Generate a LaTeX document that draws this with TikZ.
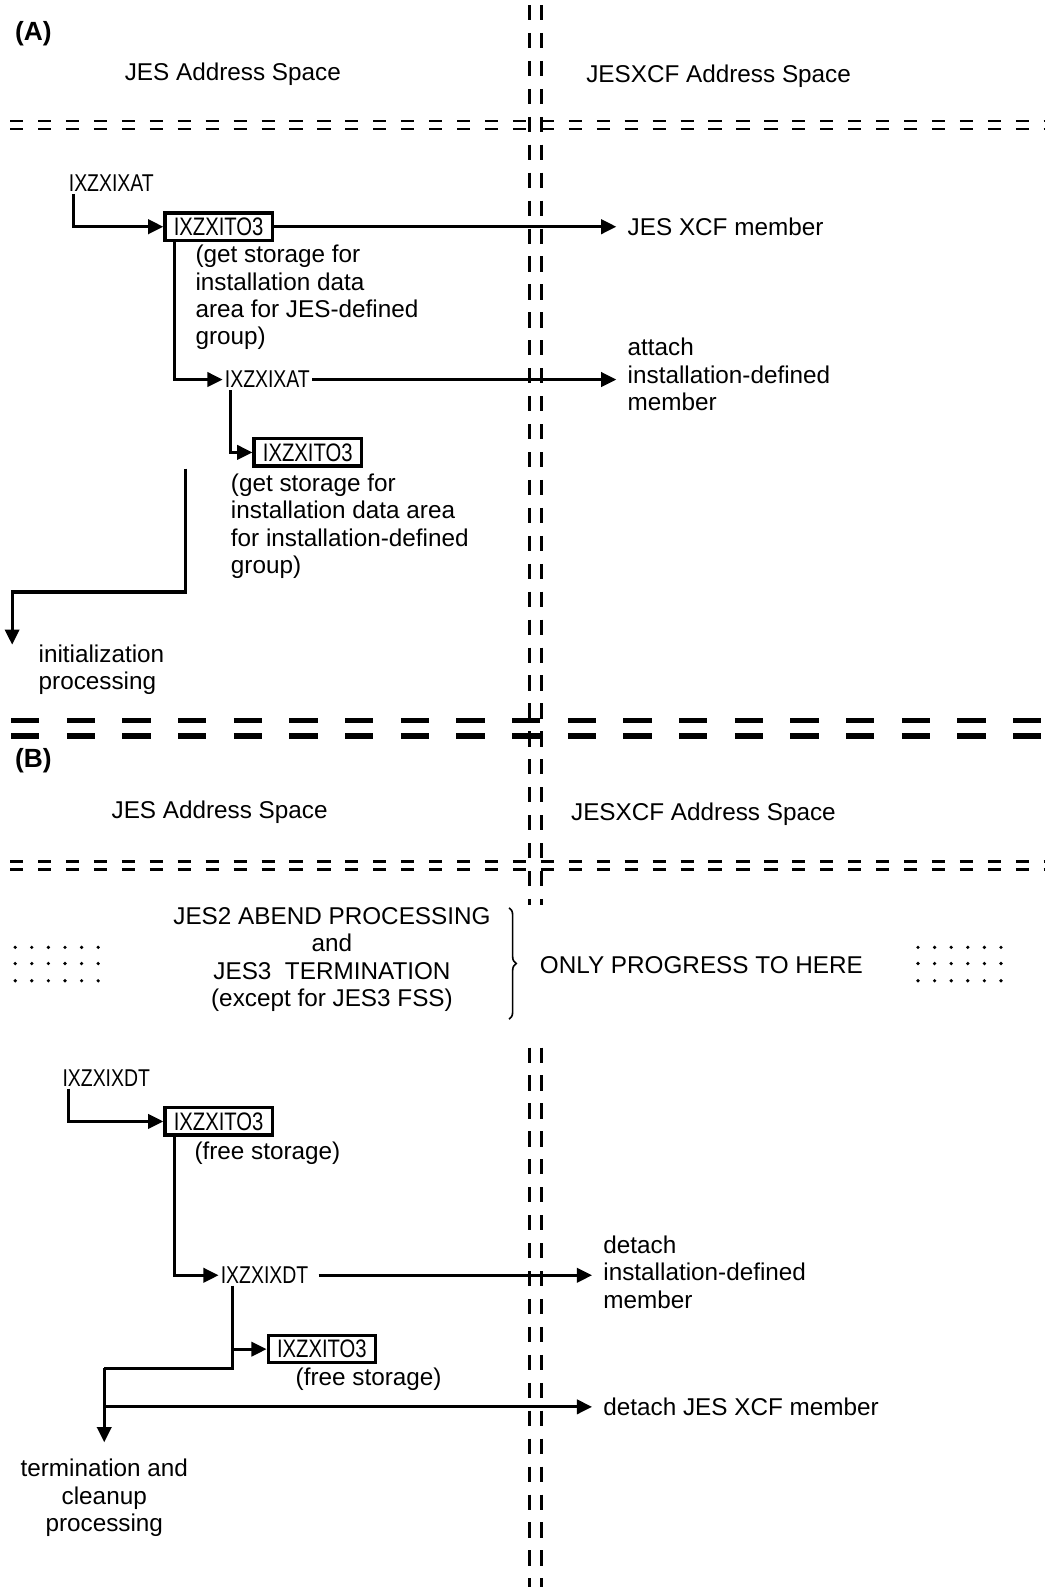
\documentclass[tikz,border=0pt]{standalone}
\usepackage{fontspec}
\setmainfont{Liberation Sans}
\newfontfamily\codefont[FakeStretch=0.8]{Liberation Sans}
\usetikzlibrary{arrows.meta, decorations.pathreplacing}

\begin{document}
\begin{tikzpicture}[x=1pt, y=-1pt, >={Triangle[length=15pt,width=14pt]},
  flow/.style={line width=3.2pt},
  sepfine/.style={line width=2.6pt, dash pattern=on 13pt off 14.6pt},
  septhick/.style={line width=5.5pt, dash pattern=on 28pt off 27pt},
  border/.style={line width=3.2pt, dash pattern=on 15pt off 12.6pt},
  title/.style={font=\fontsize{26}{28}\selectfont\bfseries, inner sep=0pt},
  txt/.style={font=\fontsize{24}{27}\selectfont, align=left, inner sep=0pt},
  target/.style={txt, anchor=west, inner xsep=11pt},
  code/.style={font=\codefont\fontsize{24}{26}\selectfont, inner sep=2pt},
  modbox/.style={draw, line width=3.2pt, font=\codefont\fontsize{25}{26}\selectfont,
    minimum width=106pt, minimum height=27pt, inner sep=1pt}]
  \useasboundingbox (0,0) rectangle (1032,1568);

  % address space boundaries
  \draw[sepfine] (10,119.5) -- (1032,119.5);
  \draw[sepfine] (10,127.5) -- (1032,127.5);
  \draw[septhick] (11,712) -- (1032,712);
  \draw[septhick] (11,727) -- (1032,727);
  \draw[sepfine] (10,851) -- (1032,851);
  \draw[sepfine] (10,859) -- (1032,859);
  \foreach \x in {523,535} {
    \draw[border] (\x,5) -- (\x,894);
    \draw[border] (\x,1035) -- (\x,1568);
  }

  % (A)
  \node[title] (secA) at (33,33) {(A)};
  \node[txt] (jesA) at (230,73) {JES Address Space};
  \node[txt] (xcfA) at (710,75) {JESXCF Address Space};

  \node[code] (ixatA) at (110,181) {IXZXIXAT};
  \node[modbox] (getA) at (216,224) {IXZXITO3};
  \node[target] (memA) at (609,224) {JES XCF member};
  \node[txt, anchor=west] (noteA) at (193,294) {(get storage for\\installation data\\area for JES-defined\\group)};
  \node[code, anchor=west] (ixatB) at (220,375) {IXZXIXAT};
  \node[target] (attA) at (609,370) {attach\\installation-defined\\member};
  \node[modbox] (getB) at (304,447) {IXZXITO3};
  \node[txt, anchor=west] (noteB) at (228,520) {(get storage for\\installation data area\\for installation-defined\\group)};
  \node[txt, anchor=west] (initA) at (38,662) {initialization\\processing};
  \coordinate (retA) at (183,463);
  \coordinate (turnA) at (12,585);
  \coordinate (endA) at (12,637);

  \draw[flow, ->] ([xshift=7pt]ixatA.south west) |- (getA.west);
  \draw[flow, ->] (getA.east) -- (memA.west);
  \draw[flow, ->] ([xshift=11pt]getA.south west) |- (ixatB.west);
  \draw[flow, ->] (ixatB.east) -- (ixatB.east -| attA.west);
  \draw[flow, ->] ([xshift=8pt]ixatB.south west) |- (getB.west);
  \draw[flow, ->] (retA) |- (turnA) -- (endA);

  % (B)
  \node[title] (secB) at (33,752) {(B)};
  \node[txt] (jesB) at (217,802) {JES Address Space};
  \node[txt] (xcfB) at (695,804) {JESXCF Address Space};

  \node[txt, align=center] (abend) at (328,948) {JES2 ABEND PROCESSING\\and\\JES3\ \ TERMINATION\\(except for JES3 FSS)};
  \draw[decorate, decoration={brace, amplitude=7pt}, line width=1.6pt] (503,897) -- (503,1007);
  \node[txt] (only) at (693,954) {ONLY PROGRESS TO HERE};
  \foreach \i in {0,...,5}
    \foreach \j in {936,952,969} {
      \fill (15+16.4*\i,\j) circle (1.8pt);
      \fill (907+16.4*\i,\j) circle (1.8pt);
    }

  \node[code] (ixdtA) at (105,1065) {IXZXIXDT};
  \node[modbox] (freeA) at (216,1108) {IXZXITO3};
  \node[txt, anchor=west] (noteC) at (192,1139) {(free storage)};
  \node[code, anchor=west] (ixdtB) at (216,1260) {IXZXIXDT};
  \node[target] (detA) at (585,1257) {detach\\installation-defined\\member};
  \node[modbox] (freeB) at (318,1333) {IXZXITO3};
  \node[txt, anchor=west] (noteD) at (292,1363) {(free storage)};
  \node[target] (detB) at (585,1390) {detach JES XCF member};
  \node[txt, align=center] (term) at (103,1480) {termination and\\cleanup\\processing};
  \coordinate (turnB) at (103,1352);
  \coordinate (endB) at (103,1425);

  \draw[flow, ->] ([xshift=8pt]ixdtA.south west) |- (freeA.west);
  \draw[flow, ->] ([xshift=11pt]freeA.south west) |- (ixdtB.west);
  \draw[flow, ->] ([xshift=8pt]ixdtB.east) -- (ixdtB.east -| detA.west);
  \draw[flow] ([xshift=14pt]ixdtB.south west) |- (turnB);
  \draw[flow, ->] ([xshift=14pt]ixdtB.south west) |- (freeB.west);
  \draw[flow, ->] (turnB) -- (endB);
  \draw[flow, ->] (turnB |- detB) -- (detB.west);
\end{tikzpicture}
\end{document}
